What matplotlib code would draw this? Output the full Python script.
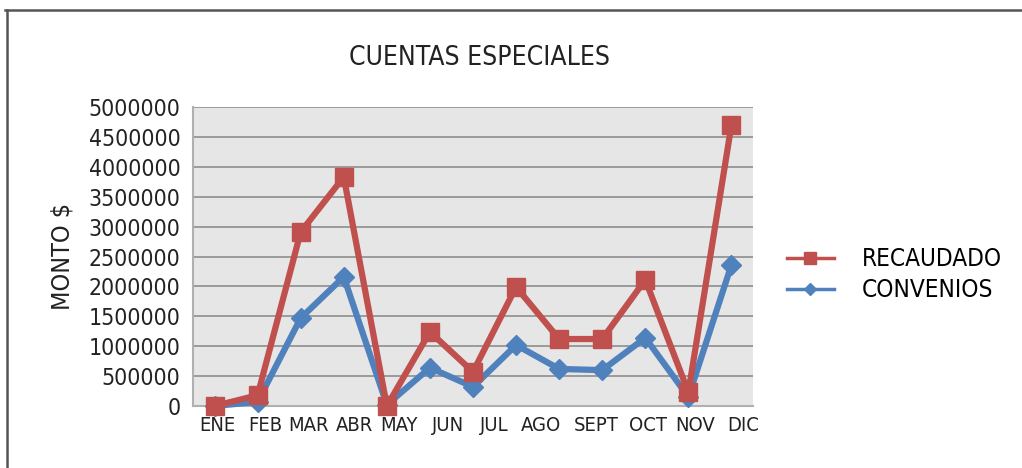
import matplotlib
matplotlib.use("Agg")
import matplotlib.pyplot as plt
from matplotlib.lines import Line2D

# monthly amounts (13 points on the chart, 12 month labels below)
recaudado = [0, 180000, 2910000, 3830000, 0, 1240000, 570000, 1990000,
             1120000, 1120000, 2110000, 230000, 4700000]
convenios = [0, 70000, 1470000, 2160000, 20000, 640000, 320000, 1020000,
             620000, 600000, 1140000, 150000, 2360000]
meses = ["ENE", "FEB", "MAR", "ABR", "MAY", "JUN", "JUL", "AGO",
         "SEPT", "OCT", "NOV", "DIC"]
y_ticks = list(range(0, 5000001, 500000))

red = "#C0504D"
blue = "#4F81BD"
txt = "#222222"

plt.rcParams["font.family"] = ["DejaVu Sans"]
plt.rcParams["font.stretch"] = "condensed"

fig = plt.figure(figsize=(10.22, 4.68), dpi=100)
ax = fig.add_axes([193 / 1022, 1 - 406 / 468, 560 / 1022, 299 / 468])

x = list(range(len(recaudado)))
ax.plot(x, convenios, color=blue, lw=4.5, marker="D", ms=10,
        clip_on=False, zorder=3)
ax.plot(x, recaudado, color=red, lw=4.5, marker="s", ms=13,
        clip_on=False, zorder=4)

ax.set_xlim(-0.5, len(recaudado) - 0.5)
ax.set_ylim(0, 5000000)
ax.set_facecolor("#E6E6E6")
ax.set_yticks(y_ticks)
ax.set_yticklabels([str(v) for v in y_ticks], fontsize=16.5, color=txt)
ax.grid(axis="y", color="#9A9A9A", lw=1.4)
ax.set_axisbelow(True)
ax.tick_params(axis="y", length=0, pad=9)
ax.tick_params(axis="x", length=0, pad=7)

# month labels sit slightly spread compared with the points
label_pos = [0.06, 1.17, 2.19, 3.26, 4.28, 5.42, 6.49, 7.58, 8.86, 10.06,
             11.15, 12.27]
ax.set_xticks(label_pos)
ax.set_xticklabels(meses, fontsize=14.5, color=txt)

for side in ["top", "right"]:
    ax.spines[side].set_visible(False)
for side in ["left", "bottom"]:
    ax.spines[side].set_color("#B0B0B0")
    ax.spines[side].set_linewidth(1.5)

ax.set_ylabel("MONTO $", fontsize=18, color=txt, labelpad=10)
fig.text(0.469, 0.877, "CUENTAS ESPECIALES", fontsize=19, ha="center",
         va="center", color=txt)

handles = [Line2D([], [], color=red, lw=2.5, marker="s", ms=9),
           Line2D([], [], color=blue, lw=2.5, marker="D", ms=6)]
fig.legend(handles, ["RECAUDADO", "CONVENIOS"], loc="center left",
           bbox_to_anchor=(0.749, 0.413), frameon=False, fontsize=17.5,
           handlelength=1.9, handletextpad=1.15, labelspacing=0.28)

# outer frame, top and left edges only
fig.add_artist(Line2D([5 / 1022, 1], [1 - 10 / 468] * 2, color="#555555",
                      lw=1.8, transform=fig.transFigure))
fig.add_artist(Line2D([7 / 1022] * 2, [0, 1 - 10 / 468], color="#555555",
                      lw=1.8, transform=fig.transFigure))

fig.savefig("out.png", dpi=100)
